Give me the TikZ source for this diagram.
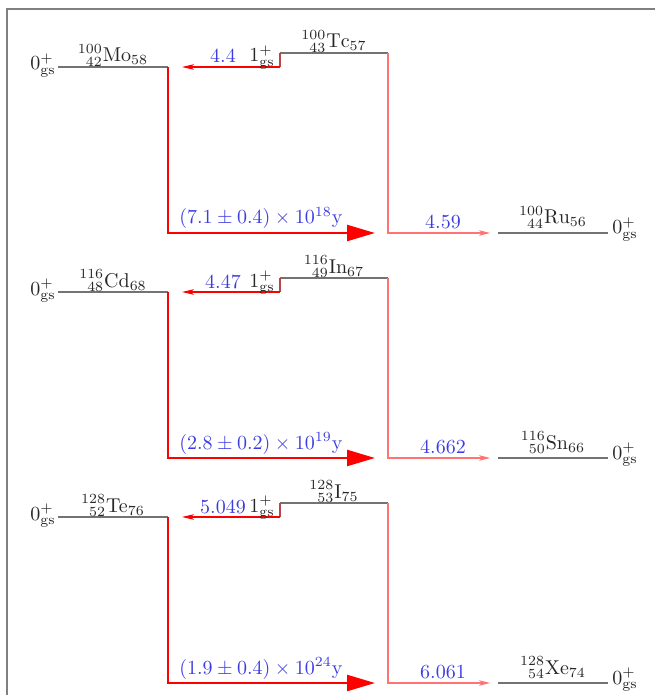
\documentclass[tikz,border=0pt]{standalone}
\usepackage{mathtools}
\usetikzlibrary{arrows.meta}
\definecolor{eblue}{RGB}{60,60,225}
\begin{document}
\begin{tikzpicture}[x=0.5pt,y=-0.5pt,
  levelline/.style={gray!90!black, line width=0.6pt},
  ecline/.style={red, line width=0.6pt, -{Stealth[length=6pt,width=2.8pt,inset=1.5pt]}},
  stepline/.style={red!45!gray, line width=0.6pt},
  betaline/.style={red!55, line width=0.6pt, -{Stealth[length=5.5pt,width=2.8pt,inset=1.5pt]}},
  dbline/.style={red, line width=1.2pt, -{Triangle[length=14pt,width=8pt]}},
  frameline/.style={gray, line width=1pt},
  nuc/.style={inner sep=0pt, anchor=base, text=black!85},
  en/.style={text=eblue, inner sep=0pt, anchor=base},
]
\useasboundingbox (0,0) rectangle (654,695);
\coordinate (FT) at (7,9);
\coordinate (FR) at (670,9);
\coordinate (FB) at (7,710);
\draw[frameline] (FR) -- (FT) -- (FB);

\foreach \i/\dy/\P/\M/\D/\Ea/\Eb/\T in {
 1/0/{\prescript{100}{43}{\mathrm{Tc}}_{57}}/{\prescript{100}{42}{\mathrm{Mo}}_{58}}/{\prescript{100}{44}{\mathrm{Ru}}_{56}}/4.4/4.59/{(7.1\pm0.4)\times10^{18}\mathrm{y}},
 2/225/{\prescript{116}{49}{\mathrm{In}}_{67}}/{\prescript{116}{48}{\mathrm{Cd}}_{68}}/{\prescript{116}{50}{\mathrm{Sn}}_{66}}/4.47/4.662/{(2.8\pm0.2)\times10^{19}\mathrm{y}},
 3/450/{\prescript{128}{53}{\mathrm{I}}_{75}}/{\prescript{128}{52}{\mathrm{Te}}_{76}}/{\prescript{128}{54}{\mathrm{Xe}}_{74}}/5.049/6.061/{(1.9\pm0.4)\times10^{24}\mathrm{y}}}
{
  % coordinates
  \coordinate (M0\i) at (58,67+\dy);
  \coordinate (M1\i) at (168,67+\dy);
  \coordinate (P0\i) at (280,53+\dy);
  \coordinate (P1\i) at (388,53+\dy);
  \coordinate (PS\i) at (280,67+\dy);
  \coordinate (EC\i) at (182,67+\dy);
  \coordinate (BB\i) at (375,233+\dy);
  \coordinate (DA\i) at (490,233+\dy);
  \coordinate (D0\i) at (498,233+\dy);
  \coordinate (D1\i) at (608,233+\dy);
  % levels
  \draw[levelline] (M0\i) -- (M1\i);
  \draw[levelline] (P0\i) -- (P1\i);
  \draw[levelline] (D0\i) -- (D1\i);
  % transitions
  \draw[stepline] (P0\i) -- (PS\i);
  \draw[ecline] (PS\i) -- (EC\i);
  \draw[betaline] (P1\i) |- (DA\i);
  \draw[dbline] (M1\i) |- (BB\i);
  % labels
  \node[nuc, anchor=base east] (ML\i) at (56,70+\dy) {$0^+_{\mathrm{gs}}$};
  \node[nuc] (MN\i) at (113,62+\dy) {$\M$};
  \node[nuc] (PN\i) at (334,48+\dy) {$\P$};
  \node[nuc, anchor=base east] (PL\i) at (275,62+\dy) {$1^+_{\mathrm{gs}}$};
  \node[en] (EA\i) at (223,63+\dy) {$\Ea$};
  \node[en] (TH\i) at (261,224+\dy) {$\T$};
  \node[en] (EB\i) at (443,228+\dy) {$\Eb$};
  \node[nuc] (DN\i) at (553,224+\dy) {$\D$};
  \node[nuc, anchor=base west] (DL\i) at (612,234+\dy) {$0^+_{\mathrm{gs}}$};
}
\end{tikzpicture}
\end{document}
